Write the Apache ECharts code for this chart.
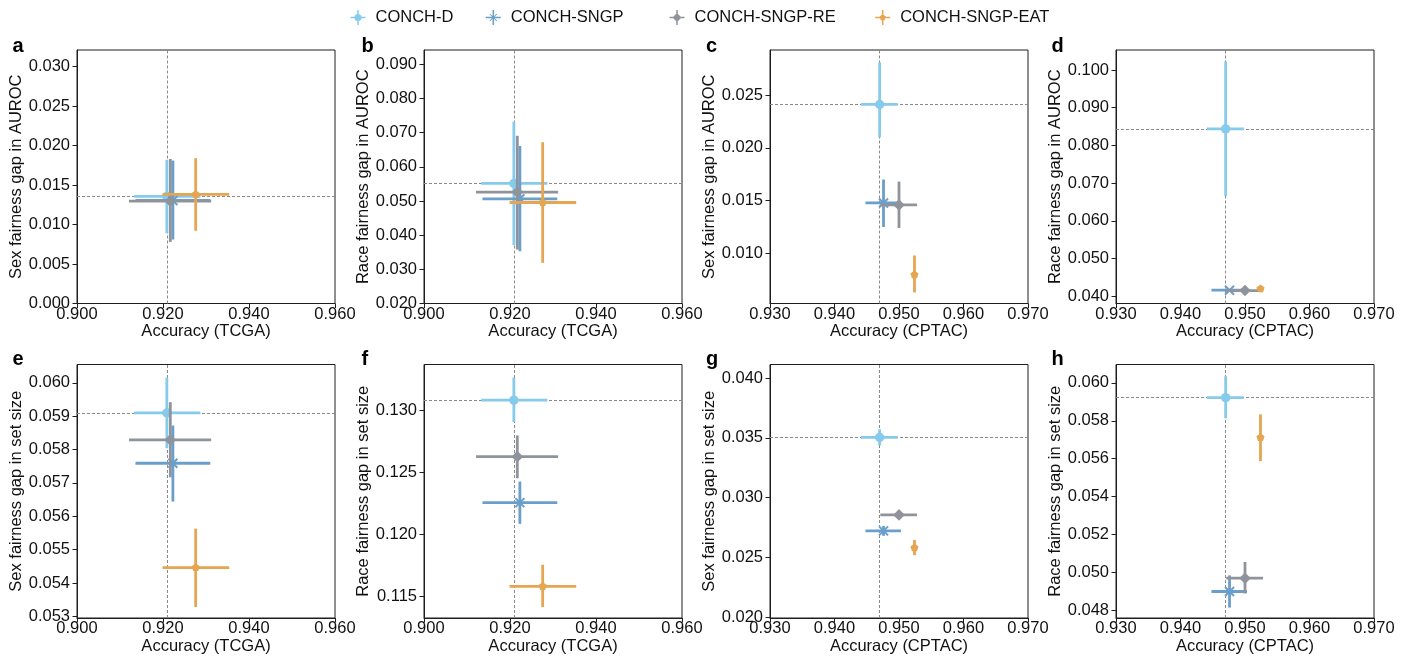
<!DOCTYPE html>
<html><head><meta charset="utf-8">
<script src="https://cdn.jsdelivr.net/npm/echarts@6/dist/echarts.min.js"></script>
<style>html,body{margin:0;padding:0;background:#fff}#c{width:1405px;height:660px}</style>
</head><body><div id="c"></div>
<script>
// ---------- DATA ----------
const models = ['CONCH-D', 'CONCH-SNGP', 'CONCH-SNGP-RE', 'CONCH-SNGP-EAT'];
// accuracy (x) per model
const accTCGA   = [0.9209, 0.9223, 0.9217, 0.9276];
const accTCGALo = [0.9133, 0.9136, 0.9121, 0.9199];
const accTCGAHi = [0.9287, 0.9310, 0.9312, 0.9354];
const accCPTAC   = [0.9470, 0.9476, 0.9500, 0.9524];
const accCPTACLo = [0.9441, 0.9448, 0.9471, 0.9521];
const accCPTACHi = [0.9498, 0.9503, 0.9528, 0.9527];
// a: sex fairness gap in AUROC (TCGA)
const sexAurocTCGA   = [0.01356, 0.01305, 0.01297, 0.01381];
const sexAurocTCGALo = [0.0089, 0.0081, 0.0078, 0.0092];
const sexAurocTCGAHi = [0.0182, 0.0181, 0.0183, 0.0184];
// b: race fairness gap in AUROC (TCGA)
const raceAurocTCGA   = [0.05515, 0.05064, 0.05260, 0.04957];
const raceAurocTCGALo = [0.0371, 0.0353, 0.0358, 0.0319];
const raceAurocTCGAHi = [0.0732, 0.0661, 0.0691, 0.0672];
// c: sex fairness gap in AUROC (CPTAC)
const sexAurocCPTAC   = [0.02411, 0.01478, 0.01459, 0.00797];
const sexAurocCPTACLo = [0.0210, 0.0125, 0.0124, 0.0063];
const sexAurocCPTACHi = [0.0281, 0.0170, 0.0168, 0.0098];
// d: race fairness gap in AUROC (CPTAC)
const raceAurocCPTAC   = [0.0844, 0.04159, 0.04150, 0.04194];
const raceAurocCPTACLo = [0.0666, 0.0413, 0.0412, 0.0416];
const raceAurocCPTACHi = [0.1022, 0.0419, 0.0418, 0.0422];
// e: sex fairness gap in set size (TCGA)
const sexSetTCGA   = [0.05910, 0.05759, 0.05829, 0.05446];
const sexSetTCGALo = [0.05804, 0.05644, 0.05717, 0.05328];
const sexSetTCGAHi = [0.06016, 0.05872, 0.05942, 0.05563];
// f: race fairness gap in set size (TCGA)
const raceSetTCGA   = [0.13080, 0.12255, 0.12625, 0.11580];
const raceSetTCGALo = [0.12904, 0.12084, 0.12451, 0.11414];
const raceSetTCGAHi = [0.13262, 0.12424, 0.12796, 0.11755];
// g: sex fairness gap in set size (CPTAC)
const sexSetCPTAC   = [0.03504, 0.02721, 0.02855, 0.02579];
const sexSetCPTACLo = [0.03437, 0.02680, 0.02820, 0.02518];
const sexSetCPTACHi = [0.03571, 0.02763, 0.02890, 0.02646];
// h: race fairness gap in set size (CPTAC)
const raceSetCPTAC   = [0.05922, 0.04899, 0.04969, 0.05711];
const raceSetCPTACLo = [0.05813, 0.04814, 0.04888, 0.05587];
const raceSetCPTACHi = [0.06035, 0.04984, 0.05055, 0.05834];

// tick labels
const xTicksTCGA  = [0.900, 0.920, 0.940, 0.960];
const xTicksCPTAC = [0.930, 0.940, 0.950, 0.960, 0.970];
const yTicksA = [0.000, 0.005, 0.010, 0.015, 0.020, 0.025, 0.030];
const yTicksB = [0.020, 0.030, 0.040, 0.050, 0.060, 0.070, 0.080, 0.090];
const yTicksC = [0.010, 0.015, 0.020, 0.025];
const yTicksD = [0.040, 0.050, 0.060, 0.070, 0.080, 0.090, 0.100];
const yTicksE = [0.053, 0.054, 0.055, 0.056, 0.057, 0.058, 0.059, 0.060];
const yTicksF = [0.115, 0.120, 0.125, 0.130];
const yTicksG = [0.020, 0.025, 0.030, 0.035, 0.040];
const yTicksH = [0.048, 0.050, 0.052, 0.054, 0.056, 0.058, 0.060];

const panelLetters = ['a', 'b', 'c', 'd', 'e', 'f', 'g', 'h'];
const yNames = ['Sex fairness gap in AUROC', 'Race fairness gap in AUROC', 'Sex fairness gap in AUROC', 'Race fairness gap in AUROC',
                'Sex fairness gap in set size', 'Race fairness gap in set size', 'Sex fairness gap in set size', 'Race fairness gap in set size'];
const xNameTCGA = 'Accuracy (TCGA)', xNameCPTAC = 'Accuracy (CPTAC)';

// ---------- STYLE / LAYOUT ----------
const colors = ['#86cbec', '#6a9fcb', '#8f949c', '#e5a551'];
const shapes = ['circle', 'x', 'diamond', 'pentagon'];
const FONT = "'Liberation Sans', Arial, Helvetica, sans-serif";
const FS = 16.5;
const lefts = [77, 424, 770, 1116], tops = [50, 364.5], GW = 258, GH = 253.5;
const letterX = [12.5, 361.5, 706, 1051.5], letterBase = [51, 364.5];

const panels = [
  {acc: 'TCGA', y: sexAurocTCGA, lo: sexAurocTCGALo, hi: sexAurocTCGAHi, ymin: 0, ymax: 0.0321, ticks: yTicksA},
  {acc: 'TCGA', y: raceAurocTCGA, lo: raceAurocTCGALo, hi: raceAurocTCGAHi, ymin: 0.020, ymax: 0.0942, ticks: yTicksB},
  {acc: 'CPTAC', y: sexAurocCPTAC, lo: sexAurocCPTACLo, hi: sexAurocCPTACHi, ymin: 0.00525, ymax: 0.02927, ticks: yTicksC},
  {acc: 'CPTAC', y: raceAurocCPTAC, lo: raceAurocCPTACLo, hi: raceAurocCPTACHi, ymin: 0.03806, ymax: 0.10532, ticks: yTicksD},
  {acc: 'TCGA', y: sexSetTCGA, lo: sexSetTCGALo, hi: sexSetTCGAHi, ymin: 0.05295, ymax: 0.06055, ticks: yTicksE},
  {acc: 'TCGA', y: raceSetTCGA, lo: raceSetTCGALo, hi: raceSetTCGAHi, ymin: 0.11326, ymax: 0.13367, ticks: yTicksF},
  {acc: 'CPTAC', y: sexSetCPTAC, lo: sexSetCPTACLo, hi: sexSetCPTACHi, ymin: 0.01992, ymax: 0.04114, ticks: yTicksG},
  {acc: 'CPTAC', y: raceSetCPTAC, lo: raceSetCPTACLo, hi: raceSetCPTACHi, ymin: 0.04759, ymax: 0.06097, ticks: yTicksH}
];

function markerEl(shape, p, color) {
  const cx = p[0], cy = p[1];
  if (shape === 'circle') return {type: 'circle', shape: {cx, cy, r: 4.7}, style: {fill: color}};
  if (shape === 'diamond') { const s = 5.8; return {type: 'polygon', shape: {points: [[cx, cy - s], [cx + s, cy], [cx, cy + s], [cx - s, cy]]}, style: {fill: color}}; }
  if (shape === 'pentagon') {
    const r = 4.3, pts = [];
    for (let k = 0; k < 5; k++) { const a = (-90 + 72 * k) * Math.PI / 180; pts.push([cx + r * Math.cos(a), cy + r * Math.sin(a)]); }
    return {type: 'polygon', shape: {points: pts}, style: {fill: color}};
  }
  const s = 4.5;
  return {type: 'group', children: [
    {type: 'line', shape: {x1: cx - s, y1: cy - s, x2: cx + s, y2: cy + s}, style: {stroke: color, lineWidth: 2}},
    {type: 'line', shape: {x1: cx - s, y1: cy + s, x2: cx + s, y2: cy - s}, style: {stroke: color, lineWidth: 2}}
  ]};
}
function makeRender(shape) {
  return function (params, api) {
    const x = api.value(0), y = api.value(1);
    const p = api.coord([x, y]);
    const xl = api.coord([api.value(2), y]), xh = api.coord([api.value(3), y]);
    const yl = api.coord([x, api.value(4)]), yh = api.coord([x, api.value(5)]);
    const color = api.visual('color');
    const ls = {stroke: color, lineWidth: 2.8};
    return {type: 'group', children: [
      {type: 'line', shape: {x1: xl[0], y1: p[1], x2: xh[0], y2: p[1]}, style: ls},
      {type: 'line', shape: {x1: p[0], y1: yl[1], x2: p[0], y2: yh[1]}, style: ls},
      markerEl(shape, p, color)
    ]};
  };
}

const plus = 'M0,13.5 H30 V16.5 H0 Z M13.5,0 H16.5 V30 H13.5 Z ';
const legendIcons = [
  'path://' + plus + 'M8,15 A7,7 0 1,1 22,15 A7,7 0 1,1 8,15 Z',
  'path://' + plus + 'M7.3,8.7 L8.7,7.3 L22.7,21.3 L21.3,22.7 Z M21.3,7.3 L22.7,8.7 L8.7,22.7 L7.3,21.3 Z',
  'path://' + plus + 'M15,6 L24,15 L15,24 L6,15 Z',
  'path://' + plus + 'M15,8.5 L21.2,13 L18.8,20.3 L11.2,20.3 L8.8,13 Z'
];
const legendX = [358, 493.3, 677, 882.7];

const grid = [], xAxis = [], yAxis = [], series = [], graphic = [];
const axisCol = '#1e1e1e';
panels.forEach((pn, i) => {
  const col = i % 4, row = Math.floor(i / 4);
  grid.push({left: lefts[col], top: tops[row], width: GW, height: GH, show: true, borderColor: axisCol, borderWidth: 1, backgroundColor: 'transparent'});
  const isT = pn.acc === 'TCGA';
  const xt = isT ? xTicksTCGA : xTicksCPTAC;
  xAxis.push({type: 'value', gridIndex: i, min: isT ? 0.900 : 0.930, max: isT ? 0.960 : 0.970,
    name: isT ? xNameTCGA : xNameCPTAC, nameLocation: 'middle', nameGap: 19,
    nameTextStyle: {fontSize: FS, color: '#111', fontFamily: FONT},
    axisLine: {show: true, onZero: false, lineStyle: {color: axisCol, width: 1}},
    axisTick: {show: true, inside: false, length: 4.5, customValues: xt, lineStyle: {color: axisCol, width: 1}},
    axisLabel: {customValues: xt, formatter: v => v.toFixed(3), fontSize: FS, color: '#111', fontFamily: FONT, margin: 2},
    splitLine: {show: false}});
  yAxis.push({type: 'value', gridIndex: i, min: pn.ymin, max: pn.ymax,
    name: yNames[i], nameLocation: 'middle', nameGap: 50, nameRotate: 90,
    nameTextStyle: {fontSize: FS, color: '#111', fontFamily: FONT},
    axisLine: {show: true, onZero: false, lineStyle: {color: axisCol, width: 1}},
    axisTick: {show: true, inside: false, length: 4.5, customValues: pn.ticks, lineStyle: {color: axisCol, width: 1}},
    axisLabel: {customValues: pn.ticks, formatter: v => v.toFixed(3), fontSize: FS, color: '#111', fontFamily: FONT, margin: 7},
    splitLine: {show: false}});
  const ax = isT ? accTCGA : accCPTAC, axLo = isT ? accTCGALo : accCPTACLo, axHi = isT ? accTCGAHi : accCPTACHi;
  // dashed reference lines through CONCH-D
  series.push({type: 'line', name: 'ref', xAxisIndex: i, yAxisIndex: i, data: [[ax[0], pn.y[0]]], symbol: 'none',
    lineStyle: {width: 0}, silent: true, animation: false, z: 1, zlevel: 0,
    markLine: {symbol: ['none', 'none'], silent: true, animation: false, precision: 8, label: {show: false},
      lineStyle: {color: '#8a8a8a', type: [3, 2], width: 1},
      emphasis: {disabled: true},
      data: [{xAxis: ax[0]}, {yAxis: pn.y[0]}]}});
  models.forEach((m, k) => {
    series.push({type: 'custom', name: m, xAxisIndex: i, yAxisIndex: i, coordinateSystem: 'cartesian2d',
      itemStyle: {color: colors[k]}, silent: true, animation: false, clip: false, z: 5 + k,
      encode: {x: 0, y: 1},
      renderItem: makeRender(shapes[k]),
      data: [[ax[k], pn.y[k], axLo[k], axHi[k], pn.lo[k], pn.hi[k]]]});
  });
  graphic.push({type: 'text', left: letterX[col], top: letterBase[row] - 15,
    style: {text: panelLetters[i], font: 'bold 20px ' + FONT, fill: '#000'}});
});

const legend = models.map((m, k) => ({
  data: [{name: m, icon: legendIcons[k]}], left: legendX[k] - 7.5, top: 9, padding: 0,
  itemWidth: 15, itemHeight: 15, selectedMode: false,
  textStyle: {fontSize: FS, color: '#111', fontFamily: FONT, padding: [0, 0, 0, 5]}
}));

const chart = echarts.init(document.getElementById('c'), null, {renderer: 'canvas'});
chart.setOption({animation: false, color: colors, textStyle: {fontFamily: FONT}, grid, xAxis, yAxis, series, legend, graphic});
</script></body></html>
